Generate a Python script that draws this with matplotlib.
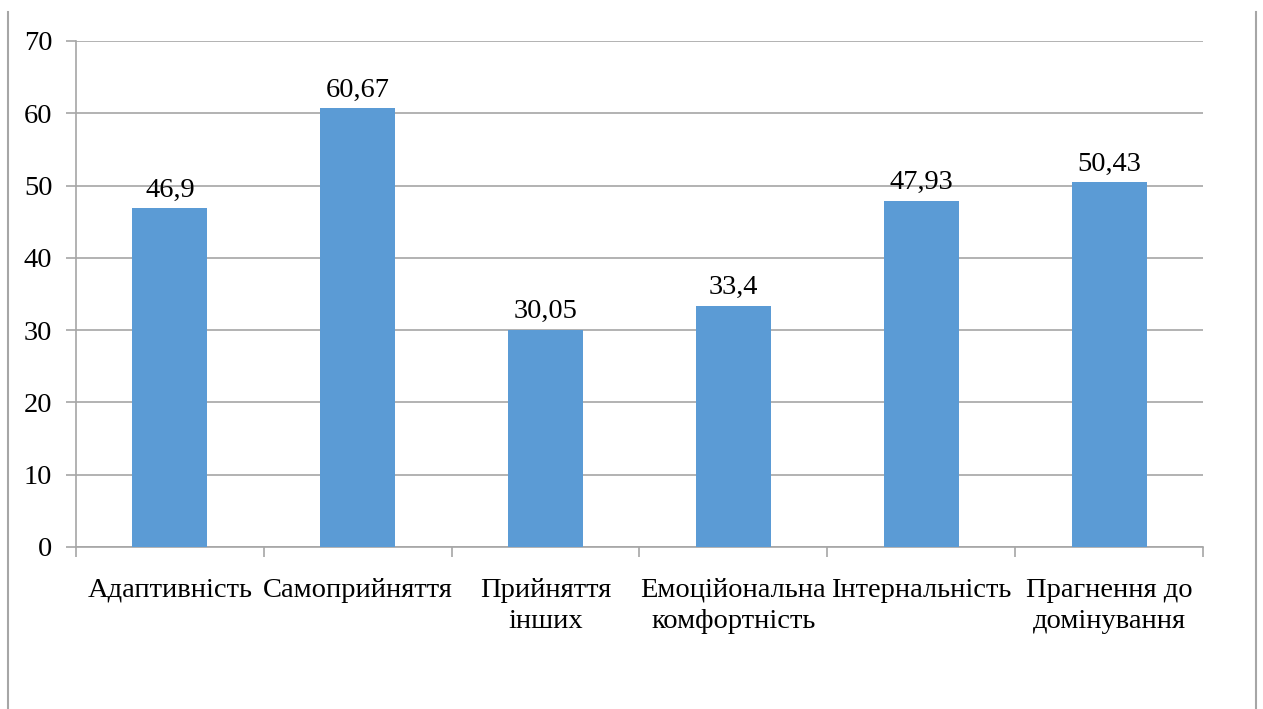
import matplotlib
matplotlib.use("Agg")
import matplotlib.pyplot as plt
from matplotlib.lines import Line2D

categories = ["Адаптивність", "Самоприйняття", "Прийняття\nінших",
              "Емоційональна\nкомфортність", "Інтернальність", "Прагнення до\nдомінування"]
values = [46.9, 60.67, 30.05, 33.4, 47.93, 50.43]
labels = ["46,9", "60,67", "30,05", "33,4", "47,93", "50,43"]
yticks = [0, 10, 20, 30, 40, 50, 60, 70]

plt.rcParams['font.family'] = ['Liberation Serif', 'DejaVu Serif']

W, H = 1263, 709
FS = 20.5
fig = plt.figure(figsize=(W / 100, H / 100), dpi=100)
ax = fig.add_axes([76 / W, 1 - 547 / H, (1203 - 76) / W, (547 - 41) / H])

x = list(range(len(categories)))
ax.bar(x, values, width=0.4, color="#5B9BD5", zorder=3)
for xi, v, lab in zip(x, values, labels):
    ax.annotate(lab, (xi, v), xytext=(0, 4), textcoords="offset points",
                ha="center", va="bottom", fontsize=FS)

ax.set_xlim(-0.5, len(categories) - 0.5)
ax.set_ylim(0, 70)
ax.set_yticks(yticks)
ax.set_yticklabels([str(t) for t in yticks], fontsize=FS)
ax.yaxis.grid(True, color="#A6A6A6", linewidth=1.2, zorder=0)
ax.tick_params(axis="y", length=7, width=1.2, color="#A6A6A6", pad=10)

ax.set_xticks(x)
ax.set_xticklabels(categories, fontsize=FS, linespacing=1.35)
ax.tick_params(axis="x", which="major", length=0, pad=22)
ax.set_xticks([i - 0.5 for i in range(len(categories) + 1)], minor=True)
ax.tick_params(axis="x", which="minor", length=7, width=1.2, color="#A6A6A6")

for s in ["top", "right"]:
    ax.spines[s].set_visible(False)
for s in ["left", "bottom"]:
    ax.spines[s].set_color("#A6A6A6")
    ax.spines[s].set_linewidth(1.2)

fig.add_artist(Line2D([8 / W, 8 / W], [0, 1 - 12 / H], color="#A6A6A6", linewidth=1.5))
fig.add_artist(Line2D([1256 / W, 1256 / W], [0, 1 - 12 / H], color="#A6A6A6", linewidth=1.5))

fig.savefig("out.png", dpi=100)
